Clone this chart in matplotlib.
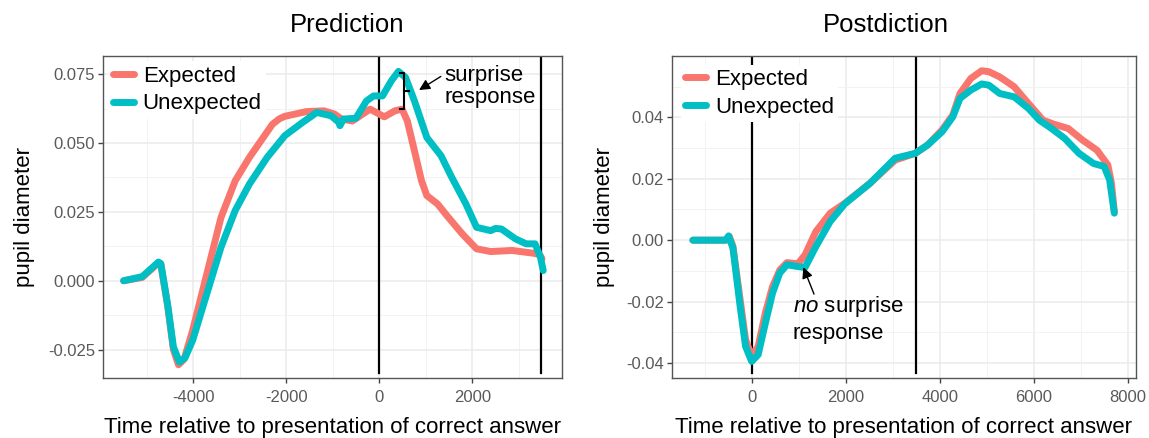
import numpy as np
import matplotlib
matplotlib.use("Agg")
import matplotlib.pyplot as plt
from matplotlib.ticker import FixedLocator

plt.rcParams['font.family'] = ['Liberation Sans', 'DejaVu Sans']
plt.rcParams['mathtext.fontset'] = 'custom'
plt.rcParams['mathtext.it'] = 'Liberation Sans:italic'
plt.rcParams['mathtext.rm'] = 'Liberation Sans'

RED = '#F8766D'
TEAL = '#00BFC4'

# ---- Prediction panel data (time in ms, pupil diameter) ----
pred_t_exp = [-5500, -5100, -4750, -4700, -4550, -4430, -4320, -4200, -4015, -3710,
              -3405, -3100, -2794, -2489, -2300, -2150, -2031, -1573, -1191, -962, -809,
              -580, -198, 0, 107, 336, 489, 603, 756, 908, 1023,
              1252, 1481, 1786, 2092, 2397, 2855, 3313, 3450, 3500]
pred_exp = [0.000, 0.0012, 0.0065, 0.0060, -0.0095, -0.025, -0.0305, -0.0285, -0.018, 0.0025,
            0.023, 0.0363, 0.0448, 0.0522, 0.0568, 0.0588, 0.0597, 0.0614, 0.0617, 0.0605, 0.0587,
            0.058, 0.0623, 0.0605, 0.0595, 0.0617, 0.0623, 0.058, 0.0472, 0.0363, 0.0309,
            0.0279, 0.0231, 0.017, 0.0116, 0.0106, 0.011, 0.010, 0.0095, 0.008]

pred_t_unexp = [-5500, -5100, -4750, -4700, -4550, -4430, -4300, -4180, -4015, -3710,
                -3405, -3100, -2794, -2412, -2031, -1649, -1344, -1038, -870, -847,
                -771, -504, -275, -122, 69, 260, 412, 565, 756, 1023,
                1328, 1557, 1863, 2092, 2397, 2500, 2626, 2931, 3160, 3351,
                3466, 3527]
pred_unexp = [0.000, 0.0015, 0.0068, 0.0062, -0.009, -0.024, -0.0295, -0.028, -0.0216, -0.0047,
              0.0122, 0.0255, 0.0351, 0.0448, 0.0527, 0.0575, 0.0611, 0.0599, 0.0575, 0.0563,
              0.0587, 0.059, 0.0653, 0.0671, 0.0671, 0.0726, 0.076, 0.0738, 0.0653, 0.052,
              0.0454, 0.0376, 0.0279, 0.0194, 0.0182, 0.0190, 0.0188, 0.0152, 0.0134, 0.0134,
              0.0086, 0.0037]

# ---- Postdiction panel data ----
post_t_exp = [-1250, -552, -475, -398, -245, -130, 0, 138, 291, 444,
              598, 751, 981, 1134, 1364, 1670, 1977, 2513, 3050, 3479,
              3739, 4046, 4276, 4429, 4659, 4889, 5042, 5272, 5579, 5885,
              6192, 6421, 6728, 7034, 7341, 7571, 7648, 7709]
post_exp = [0.000, 0.000, 0.0012, -0.002, -0.0194, -0.0324, -0.0378, -0.0346, -0.0237, -0.0151,
            -0.0097, -0.0073, -0.0077, -0.0048, 0.0028, 0.0088, 0.012, 0.0185, 0.0261, 0.0283,
            0.031, 0.0359, 0.0408, 0.0478, 0.0527, 0.0552, 0.0549, 0.0532, 0.050, 0.0445,
            0.0391, 0.0378, 0.0364, 0.0326, 0.0293, 0.0245, 0.0185, 0.0093]

post_t_unexp = [-1250, -552, -490, -398, -245, -130, 0, 138, 291, 444,
                598, 751, 981, 1134, 1364, 1670, 1977, 2513, 3050, 3479,
                3739, 4046, 4276, 4429, 4659, 4889, 5042, 5272, 5579, 5885,
                6115, 6345, 6651, 6958, 7264, 7494, 7609, 7709]
post_unexp = [0.000, 0.000, 0.0014, -0.0026, -0.0216, -0.0346, -0.0395, -0.0373, -0.027, -0.0172,
              -0.0107, -0.008, -0.0086, -0.0089, -0.0021, 0.0061, 0.0118, 0.0185, 0.0267, 0.0283,
              0.031, 0.0353, 0.0402, 0.0462, 0.0489, 0.0509, 0.0505, 0.0478, 0.0467, 0.0429,
              0.0391, 0.0367, 0.0332, 0.0283, 0.025, 0.024, 0.0196, 0.0088]

pred_xticks = [-4000, -2000, 0, 2000]
pred_xlabels = ['-4000', '-2000', '0', '2000']
pred_yticks = [-0.025, 0.0, 0.025, 0.05, 0.075]
pred_ylabels = ['-0.025', '0.000', '0.025', '0.050', '0.075']
post_xticks = [0, 2000, 4000, 6000, 8000]
post_xlabels = ['0', '2000', '4000', '6000', '8000']
post_yticks = [-0.04, -0.02, 0.0, 0.02, 0.04]
post_ylabels = ['-0.04', '-0.02', '0.00', '0.02', '0.04']


def style_axes(ax, xticks, xlabels, yticks, ylabels, xlim, ylim):
    ax.set_xlim(xlim)
    ax.set_ylim(ylim)
    ax.set_xticks(xticks)
    ax.set_xticklabels(xlabels)
    ax.set_yticks(yticks)
    ax.set_yticklabels(ylabels)
    dx = xticks[1] - xticks[0]
    dy = yticks[1] - yticks[0]
    ax.xaxis.set_minor_locator(FixedLocator(np.arange(xticks[0] - dx * 3.5, xticks[-1] + dx * 3, dx)))
    ax.yaxis.set_minor_locator(FixedLocator(np.arange(yticks[0] - dy * 3.5, yticks[-1] + dy * 3, dy)))
    ax.grid(which='major', color='#EBEBEB', lw=1.1)
    ax.grid(which='minor', color='#F2F2F2', lw=0.7)
    ax.set_axisbelow(True)
    for s in ax.spines.values():
        s.set_color('#555555')
        s.set_linewidth(1.0)
    ax.tick_params(axis='x', which='major', pad=5)
    ax.tick_params(axis='y', which='major', pad=2)
    ax.tick_params(which='major', length=3.5, width=1.0, color='#444444',
                   labelsize=12, labelcolor='#5A5A5A')
    ax.tick_params(which='minor', length=0)
    ax.set_xlabel('Time relative to presentation of correct answer', fontsize=16, labelpad=9)
    ax.set_ylabel('pupil diameter', fontsize=16)


fig = plt.figure(figsize=(11.49, 4.38), dpi=100)
ax1 = fig.add_axes([0.0894, 0.137, 0.3997, 0.7358])
ax2 = fig.add_axes([0.5846, 0.137, 0.4041, 0.7358])

# Prediction
style_axes(ax1, pred_xticks, pred_xlabels, pred_yticks, pred_ylabels,
           (-5950, 3930), (-0.0353, 0.0817))
ax1.yaxis.set_label_coords(-0.148, 0.5)
ax1.axvline(0, ymin=0.015, color='black', lw=1.6, zorder=2)
ax1.axvline(3470, ymin=0.015, color='black', lw=1.6, zorder=2)
ax1.plot(pred_t_exp, pred_exp, color=RED, lw=5, solid_capstyle='round', zorder=3, label='Expected')
ax1.plot(pred_t_unexp, pred_unexp, color=TEAL, lw=5, solid_capstyle='round', zorder=4, label='Unexpected')

# bracket showing the surprise response
bx, btop, bbot, tick = 541, 0.0754, 0.0623, 90
ax1.plot([bx - tick, bx, bx, bx - tick], [btop, btop, bbot, bbot], color='black', lw=1.5, zorder=5)
ax1.plot([bx, bx + tick], [(btop + bbot) / 2] * 2, color='black', lw=1.5, zorder=5)
ax1.annotate('', xy=(805, 0.0687), xytext=(1374, 0.0747),
             arrowprops=dict(arrowstyle='-|>', color='black', lw=1.0, mutation_scale=16), zorder=6)
ax1.text(1410, 0.0706, 'surprise\nresponse', fontsize=16, ha='left', va='center', linespacing=1.05)
leg1 = ax1.legend(loc='upper left', fontsize=16, frameon=True, handlelength=0.95,
                  handletextpad=0.4, labelspacing=0.3, borderpad=0.2, borderaxespad=0.25)
leg1.get_frame().set_edgecolor('none')
leg1.get_frame().set_facecolor('white')
leg1.get_frame().set_alpha(1)

# Postdiction
style_axes(ax2, post_xticks, post_xlabels, post_yticks, post_ylabels,
           (-1700, 8170), (-0.0449, 0.0601))
ax2.yaxis.set_label_coords(-0.123, 0.5)
ax2.axvline(0, ymin=0.015, color='black', lw=1.6, zorder=2)
ax2.axvline(3500, ymin=0.015, color='black', lw=1.6, zorder=2)
ax2.plot(post_t_exp, post_exp, color=RED, lw=5, solid_capstyle='round', zorder=3, label='Expected')
ax2.plot(post_t_unexp, post_unexp, color=TEAL, lw=5, solid_capstyle='round', zorder=4, label='Unexpected')
ax2.annotate('', xy=(1077, -0.008), xytext=(1347, -0.0184),
             arrowprops=dict(arrowstyle='-|>', color='black', lw=1.0, mutation_scale=16), zorder=6)
ax2.text(870, -0.0216, r'$\it{no}$ surprise', fontsize=16, ha='left', va='center')
ax2.text(870, -0.0303, 'response', fontsize=16, ha='left', va='center')
leg2 = ax2.legend(loc='upper left', fontsize=16, frameon=True, handlelength=0.95,
                  handletextpad=0.4, labelspacing=0.3, borderpad=0.2, borderaxespad=0.4)
leg2.get_frame().set_edgecolor('none')
leg2.get_frame().set_facecolor('white')
leg2.get_frame().set_alpha(1)

fig.text(347 / 1149, 1 - 25 / 438, 'Prediction', fontsize=18.5, ha='center', va='center')
fig.text(886 / 1149, 1 - 25 / 438, 'Postdiction', fontsize=18.5, ha='center', va='center')

fig.savefig('out.png', dpi=100)
